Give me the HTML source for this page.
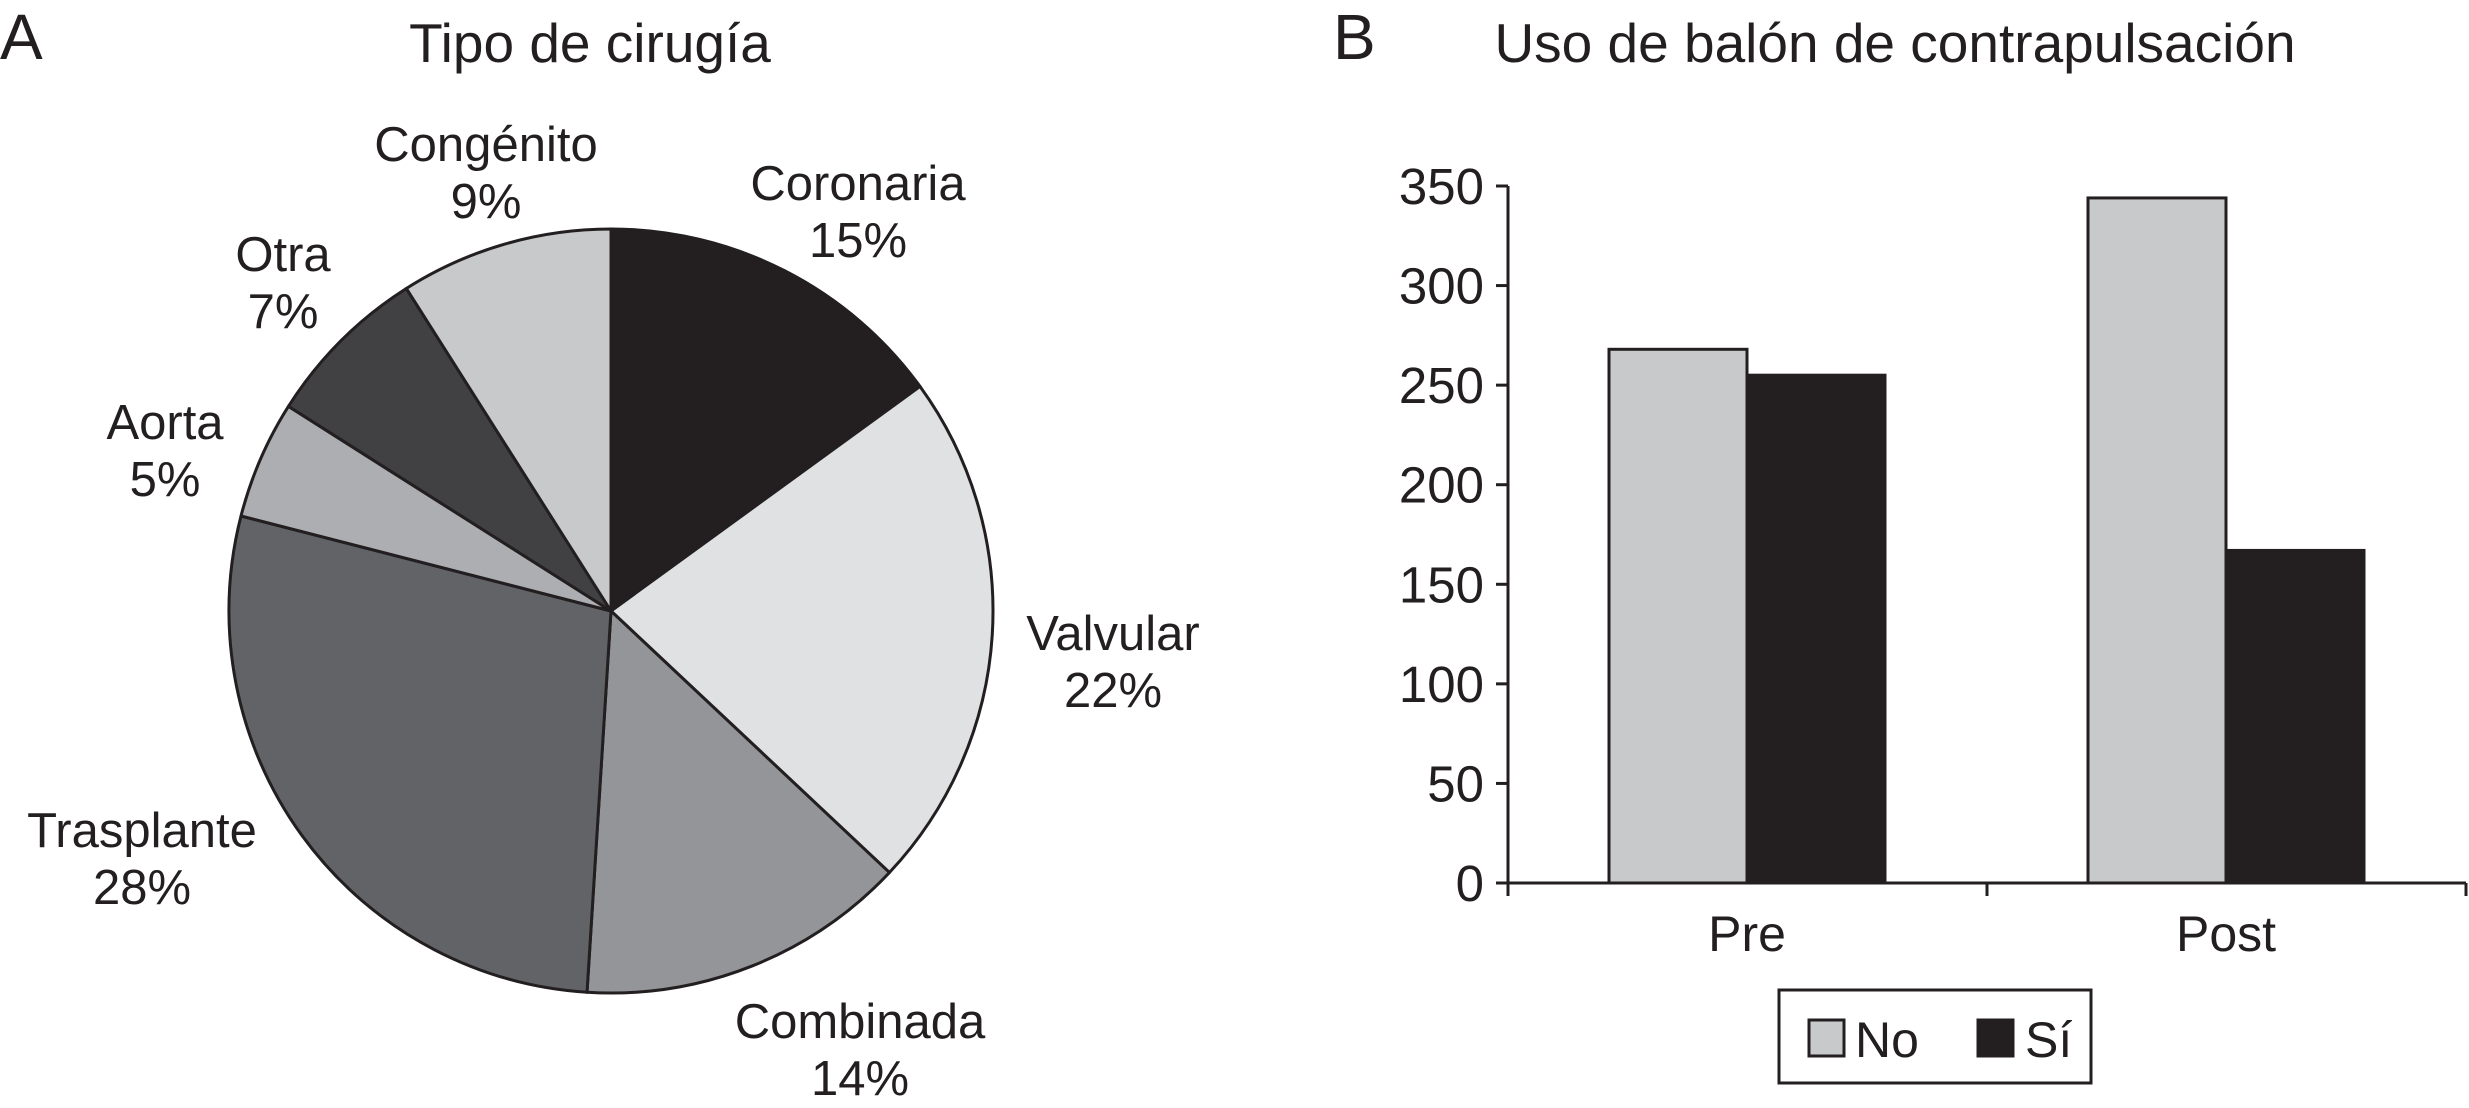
<!DOCTYPE html>
<html><head><meta charset="utf-8"><style>
html,body{margin:0;padding:0;background:#fff}
svg{display:block;font-family:"Liberation Sans",Arial,sans-serif;fill:#231f20}
</style></head><body>
<svg id="c" width="2469" height="1108" viewBox="0 0 2469 1108">
<text x="0" y="59" font-size="64">A</text>
<text x="590" y="62" font-size="55" text-anchor="middle">Tipo de cirugía</text>
<g id="pie"></g>
<text x="1333" y="59" font-size="64">B</text>
<text x="1895" y="62" font-size="55" text-anchor="middle">Uso de balón de contrapulsación</text>
<g id="bars"></g>
</svg>
<script>
const sliceNames=["Coronaria","Valvular","Combinada","Trasplante","Aorta","Otra","Congénito"];
const sliceValues=[15,22,14,28,5,7,9];
const categories=["Pre","Post"];
const seriesNo=[268,344];
const seriesSi=[255,167];
const yTicks=[0,50,100,150,200,250,300,350];

const NS="http://www.w3.org/2000/svg";
function mk(tag,attrs,parent){const e=document.createElementNS(NS,tag);for(const k in attrs)e.setAttribute(k,attrs[k]);parent.appendChild(e);return e;}

// Pie
const pie=document.getElementById('pie');
const cx=611,cy=611,r=382;
const colors=["#231f20","#e0e1e3","#939598","#626366","#adaeb1","#414143","#c8c9cb"];
const labelPos=[[858,200],[1113,650],[860,1038],[142,847],[165,439],[283,271],[486,161]];
const total=sliceValues.reduce((a,b)=>a+b,0);
let acc=0;
sliceValues.forEach((v,i)=>{
  const a0=acc/total*2*Math.PI; acc+=v; const a1=acc/total*2*Math.PI;
  const x0=cx+r*Math.sin(a0),y0=cy-r*Math.cos(a0),x1=cx+r*Math.sin(a1),y1=cy-r*Math.cos(a1);
  const large=(a1-a0)>Math.PI?1:0;
  const p=mk('path',{d:`M${cx},${cy}L${x0},${y0}A${r},${r} 0 ${large} 1 ${x1},${y1}Z`,fill:colors[i],stroke:"#231f20","stroke-width":3,"stroke-linejoin":"round"},pie);
  
  
  const t=mk('text',{x:labelPos[i][0],y:labelPos[i][1],"font-size":49,"text-anchor":"middle"},pie);
  
  
  const s1=mk('tspan',{x:labelPos[i][0]},t); s1.textContent=sliceNames[i];
  const s2=mk('tspan',{x:labelPos[i][0],dy:57},t); s2.textContent=v+"%";
});

// Bars
const g=document.getElementById('bars');
const axX=1508,axR=2466,y0px=883,ymaxPx=186,ymax=350;
const y=v=>y0px-(v/ymax)*(y0px-ymaxPx);
const catW=(axR-axX)/categories.length, barW=138, off=101;
const ax=mk('line',{x1:axX,y1:ymaxPx,x2:axX,y2:y0px,stroke:"#231f20","stroke-width":3},g);

const xa=mk('line',{x1:axX,y1:y0px,x2:axR,y2:y0px,stroke:"#231f20","stroke-width":3},g);

yTicks.forEach(t=>{
  const l=mk('line',{x1:axX-12,y1:y(t),x2:axX,y2:y(t),stroke:"#231f20","stroke-width":3},g);
  
  const tx=mk('text',{x:axX-24,y:y(t)+18,"font-size":51,"text-anchor":"end"},g);
  
  tx.textContent=t;
});
for(let i=0;i<=categories.length;i++){
  const l=mk('line',{x1:axX+i*catW,y1:y0px,x2:axX+i*catW,y2:y0px+13,stroke:"#231f20","stroke-width":3},g);
  
}
categories.forEach((c,i)=>{
  const gx=axX+i*catW+off;
  const b1=mk('rect',{x:gx,y:y(seriesNo[i]),width:barW,height:y0px-y(seriesNo[i]),fill:"#c8c9cb",stroke:"#231f20","stroke-width":3},g);
  
  const b2=mk('rect',{x:gx+barW,y:y(seriesSi[i]),width:barW,height:y0px-y(seriesSi[i]),fill:"#231f20",stroke:"#231f20","stroke-width":3},g);
  
  const t=mk('text',{x:gx+barW,y:951,"font-size":50,"text-anchor":"middle"},g);
  
  t.textContent=c;
});
// Legend
const lg=mk('g',{},g);

mk('rect',{x:1779,y:990,width:312,height:93,fill:"#fff",stroke:"#231f20","stroke-width":3},lg);
const s1=mk('rect',{x:1809,y:1020,width:35,height:36,fill:"#c8c9cb",stroke:"#231f20","stroke-width":3},lg);

const t1=mk('text',{x:1855,y:1057,"font-size":50},lg);t1.textContent="No";

const s2=mk('rect',{x:1978,y:1020,width:35,height:36,fill:"#231f20",stroke:"#231f20","stroke-width":3},lg);

const t2=mk('text',{x:2025,y:1057,"font-size":50},lg);t2.textContent="Sí";

</script>
</body></html>
